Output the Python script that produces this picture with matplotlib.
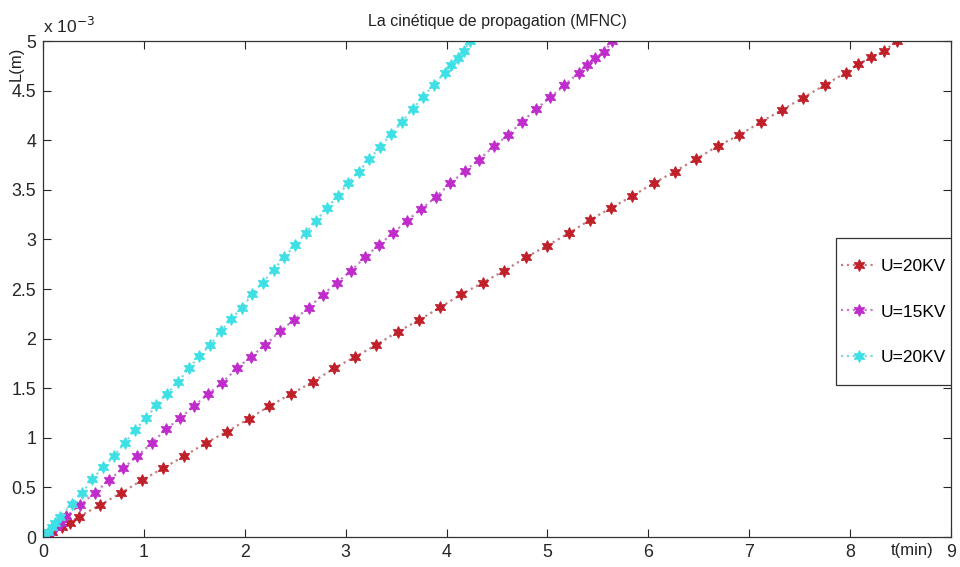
import matplotlib
matplotlib.use("Agg")
import matplotlib.pyplot as plt
from matplotlib.ticker import FuncFormatter, MultipleLocator
from matplotlib.patches import Rectangle

plt.rcParams['font.family'] = ['Liberation Sans', 'DejaVu Sans']

title = "La cinétique de propagation (MFNC)"
xlabel = "t(min)"
ylabel = "L(m)"
labels = ["U=20KV", "U=15KV", "U=20KV"]

# series 1 (red)
t_red = [0, 0.086, 0.186, 0.268, 0.357, 0.565, 0.774, 0.985, 1.193, 1.402, 1.614,
         1.822, 2.037, 2.245, 2.460, 2.676, 2.887, 3.095, 3.304, 3.515, 3.730,
         3.938, 4.147, 4.358, 4.573, 4.789, 4.997, 5.211, 5.420, 5.628, 5.840,
         6.052, 6.260, 6.471, 6.689, 6.902, 7.120, 7.324, 7.533, 7.748, 7.956,
         8.078, 8.211, 8.337, 8.462]
L_red = [0, 0.053, 0.104, 0.144, 0.205, 0.323, 0.444, 0.575, 0.696, 0.817, 0.948,
         1.062, 1.190, 1.321, 1.442, 1.566, 1.701, 1.818, 1.935, 2.070, 2.188,
         2.316, 2.447, 2.564, 2.685, 2.820, 2.937, 3.061, 3.196, 3.314, 3.438,
         3.566, 3.683, 3.808, 3.942, 4.052, 4.187, 4.304, 4.428, 4.556, 4.680,
         4.765, 4.835, 4.899, 5.000]

# series 2 (magenta)
t_mag = [0, 0.057, 0.124, 0.178, 0.231, 0.370, 0.516, 0.657, 0.797, 0.936, 1.078,
         1.215, 1.359, 1.498, 1.640, 1.779, 1.922, 2.061, 2.202, 2.347, 2.491,
         2.632, 2.775, 2.914, 3.053, 3.194, 3.326, 3.469, 3.608, 3.750, 3.896,
         4.038, 4.182, 4.319, 4.468, 4.610, 4.749, 4.888, 5.030, 5.169, 5.311,
         5.394, 5.476, 5.565, 5.642]
L_mag = [0, 0.053, 0.104, 0.144, 0.209, 0.326, 0.446, 0.578, 0.693, 0.819, 0.945,
         1.084, 1.198, 1.321, 1.444, 1.557, 1.701, 1.818, 1.935, 2.073, 2.191,
         2.311, 2.443, 2.564, 2.685, 2.820, 2.944, 3.062, 3.189, 3.306, 3.430,
         3.566, 3.690, 3.803, 3.938, 4.052, 4.187, 4.312, 4.432, 4.556, 4.680,
         4.758, 4.832, 4.892, 5.000]

# series 3 (cyan)
t_cy = [0, 0.045, 0.088, 0.122, 0.173, 0.285, 0.390, 0.489, 0.598, 0.704, 0.813,
        0.916, 1.019, 1.121, 1.230, 1.339, 1.448, 1.551, 1.657, 1.763, 1.865,
        1.971, 2.071, 2.176, 2.285, 2.391, 2.500, 2.606, 2.708, 2.814, 2.920,
        3.023, 3.128, 3.234, 3.343, 3.452, 3.559, 3.664, 3.767, 3.872, 3.981,
        4.045, 4.110, 4.170, 4.236]
L_cy = [0, 0.053, 0.104, 0.144, 0.205, 0.333, 0.447, 0.585, 0.703, 0.817, 0.951,
        1.081, 1.197, 1.326, 1.445, 1.566, 1.701, 1.825, 1.935, 2.077, 2.195,
        2.312, 2.447, 2.564, 2.692, 2.820, 2.944, 3.065, 3.189, 3.314, 3.438,
        3.566, 3.683, 3.808, 3.935, 4.060, 4.187, 4.312, 4.439, 4.556, 4.680,
        4.758, 4.826, 4.902, 5.000]

colors = ["#c0202a", "#c02ccc", "#3ee0e6"]
line_colors = ["#c08080", "#c080c8", "#80d8e0"]

fig = plt.figure(figsize=(9.6, 5.67), dpi=100)
ax = fig.add_axes([43/960, 1-537/567, (951-43)/960, (537-41)/567])

star = (6, 1, 0)
for t, L, c, lc, lab in zip([t_red, t_mag, t_cy], [L_red, L_mag, L_cy], colors, line_colors, labels):
    ax.plot(t, [v*1e-3 for v in L], linestyle=':', color=lc, linewidth=1.6,
            marker=star, markersize=8.5, markerfacecolor=c, markeredgecolor=c,
            markeredgewidth=0.8, label=lab)

ax.set_xlim(0, 9)
ax.set_ylim(0, 5e-3)
ax.xaxis.set_major_locator(MultipleLocator(1))
ax.yaxis.set_major_locator(MultipleLocator(0.5e-3))
ax.yaxis.set_major_formatter(FuncFormatter(lambda v, p: "%g" % round(v*1e3, 3)))
ax.tick_params(direction='in', length=6, width=0.8, top=True, right=True,
               labelsize=12.8, colors='#262626', pad=5)
for s in ax.spines.values():
    s.set_color('#333333')
    s.set_linewidth(0.9)

ax.set_title(title, fontsize=11.5, pad=11, color='#222222')
fig.text(43/960, 1-26/567, r"x 10$^{-3}$", fontsize=12.5, ha='left', va='center', color='#222222')
fig.text(16/960, 1-64/567, ylabel, fontsize=12, rotation=90, ha='center', va='center', color='#222222')
fig.text(912/960, 1-551/567, xlabel, fontsize=12, ha='center', va='center', color='#222222')

# legend box (MATLAB style: tall padding)
box = Rectangle(((836-43)/908, (537-385)/496), (951-836)/908, 147/496,
                transform=ax.transAxes, facecolor='white', edgecolor='#333333',
                linewidth=0.9, zorder=4)
ax.add_patch(box)
leg = ax.legend(loc='center', bbox_to_anchor=((893.5-43)/908, (537-312)/496),
                fontsize=12.5, labelspacing=1.75, handlelength=2.0, handletextpad=0.25,
                borderpad=0.2, borderaxespad=0.0, frameon=False)
leg.set_zorder(5)

fig.savefig("out.png", dpi=100)
